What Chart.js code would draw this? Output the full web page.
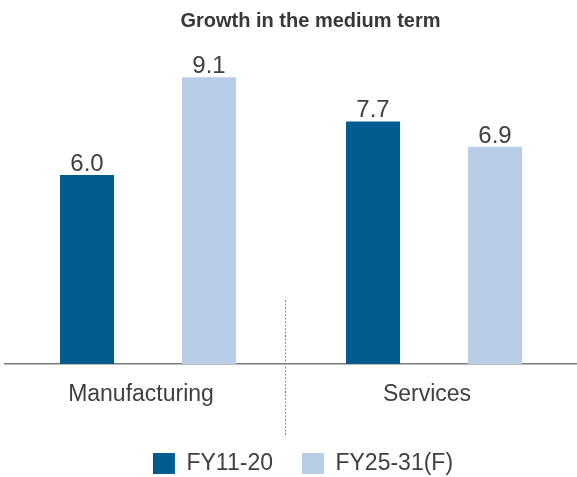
<!DOCTYPE html>
<html>
<head>
<meta charset="utf-8">
<script src="https://cdn.jsdelivr.net/npm/chart.js@4/dist/chart.umd.min.js"></script>
<style>
    html, body { margin: 0; padding: 0; background: #fff; }
    #wrap { width: 577px; height: 477px; position: relative; }
</style>
</head>
<body>
<div id="wrap"><canvas id="growthChart"></canvas></div>
<script>
// Données
const categories = ['Manufacturing', 'Services'];
const seriesNames = ['FY11-20', 'FY25-31(F)'];
const fy11to20 = [6.0, 7.7];
const fy25to31 = [9.1, 6.9];
const chartTitle = 'Growth in the medium term';

const darkBlue = '#005b8f';
const lightBlue = '#b8cde6';
const textColor = '#404040';
const fontFamily = '"Liberation Sans", Arial, sans-serif';

// Titre dessiné à la main (légèrement décalé à droite comme l'original)
const titlePlugin = {
    id: 'titlePlugin',
    afterDraw(chart) {
        const ctx = chart.ctx;
        ctx.save();
        ctx.font = 'bold 20px ' + fontFamily;
        ctx.fillStyle = '#383838';
        ctx.textAlign = 'center';
        ctx.textBaseline = 'middle';
        ctx.fillText(chartTitle, chart.width / 2 + 22, 21);
        ctx.restore();
    }
};

// Étiquettes de valeurs au-dessus des barres
const valueLabels = {
    id: 'valueLabels',
    afterDatasetsDraw(chart) {
        const ctx = chart.ctx;
        ctx.save();
        ctx.font = '24px ' + fontFamily;
        ctx.fillStyle = textColor;
        ctx.textAlign = 'center';
        ctx.textBaseline = 'alphabetic';
        chart.data.datasets.forEach((ds, i) => {
            chart.getDatasetMeta(i).data.forEach((bar, j) => {
                ctx.fillText(ds.data[j].toFixed(1), bar.x, bar.y - 4);
            });
        });
        ctx.restore();
    }
};

// Séparateur pointillé entre les deux catégories
const separator = {
    id: 'separator',
    afterDraw(chart) {
        const x = chart.scales.x;
        const sx = Math.round((x.getPixelForValue(0) + x.getPixelForValue(1)) / 2) - 5.5;
        const ctx = chart.ctx;
        ctx.save();
        ctx.strokeStyle = '#8a8a8a';
        ctx.lineWidth = 1;
        ctx.setLineDash([2, 1.5]);
        ctx.beginPath();
        ctx.moveTo(sx, chart.chartArea.bottom - 64);
        ctx.lineTo(sx, chart.chartArea.bottom + 73);
        ctx.stroke();
        ctx.restore();
    }
};

// Décale la légende un peu vers la droite
const legendShift = {
    id: 'legendShift',
    beforeDraw(chart) {
        if (chart.legend && !chart.legend._shifted) {
            chart.legend.left += 24;
            chart.legend._shifted = true;
        }
    }
};

new Chart(document.getElementById('growthChart'), {
    type: 'bar',
    data: {
        labels: categories,
        datasets: [
            { label: seriesNames[0], data: fy11to20, backgroundColor: darkBlue },
            { label: seriesNames[1], data: fy25to31, backgroundColor: lightBlue }
        ]
    },
    options: {
        responsive: true,
        maintainAspectRatio: false,
        animation: false,
        categoryPercentage: 0.853,
        barPercentage: 0.443,
        layout: { padding: { left: 5, right: 0, top: 49, bottom: -8 } },
        scales: {
            x: {
                grid: { display: false, drawTicks: false },
                border: { color: '#7a7a7a', width: 1.5 },
                ticks: {
                    color: textColor,
                    font: { family: fontFamily, size: 23 },
                    padding: 17,
                    labelOffset: -7
                },
                afterFit(scale) { scale.height = 59; }
            },
            y: {
                display: false,
                min: 0,
                max: 10
            }
        },
        plugins: {
            title: { display: false },
            legend: {
                position: 'bottom',
                labels: {
                    color: textColor,
                    font: { family: fontFamily, size: 23 },
                    boxWidth: 22,
                    boxHeight: 21,
                    padding: 29
                }
            },
            tooltip: { enabled: false }
        }
    },
    plugins: [titlePlugin, valueLabels, separator, legendShift]
});
</script>
</body>
</html>
